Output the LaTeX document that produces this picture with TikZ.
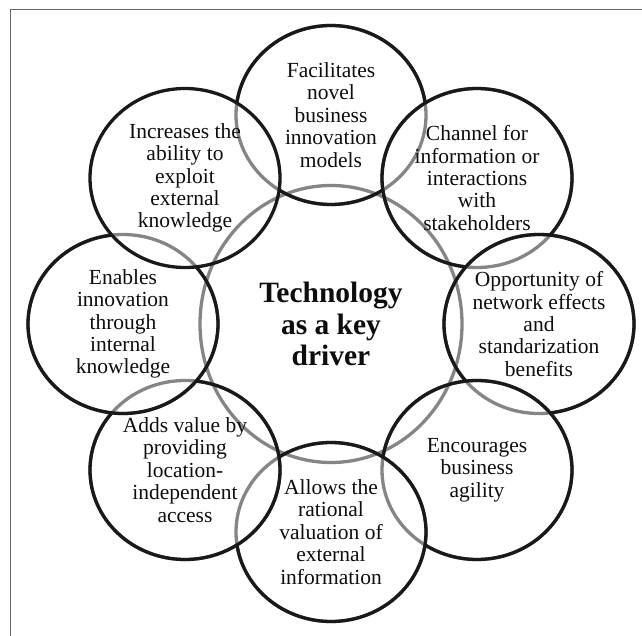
\documentclass[tikz,border=0pt]{standalone}
\usepackage{fontspec}
\setmainfont{Liberation Serif}
\begin{document}
\begin{tikzpicture}[x=1pt,y=-1pt,
  blackline/.style={draw=black!90, line width=3.3pt},
  grayline/.style={draw=black!48, line width=3.3pt},
  ovalsize/.style={x radius=95, y radius=89.5},
  lbl/.style={align=center, inner sep=0pt, font=\fontsize{21.5}{22.4}\selectfont, text=black!95},
  hub/.style={align=center, inner sep=0pt, font=\fontsize{29.5}{31.5}\selectfont\bfseries, text=black!95},
]
\useasboundingbox (0,0) rectangle (642,636);
\draw[black!60, line width=1.2pt] (10.5,660) -- (10.5,9.5) -- (660,9.5);
% centres
\coordinate (pC) at (331,324);
\coordinate (pT) at (331,115);
\coordinate (pTR) at (477,178);
\coordinate (pR) at (539,324);
\coordinate (pBR) at (477,470);
\coordinate (pB) at (331,532);
\coordinate (pBL) at (185,470);
\coordinate (pL) at (123,324);
\coordinate (pTL) at (185,178);
% central ring
\draw[grayline] (pC) ellipse [x radius=131, y radius=138.5];
% outer rings, grey first
\foreach \p in {pT,pTR,pR,pBR,pB,pBL,pL}
  \draw[grayline] (\p) ellipse [ovalsize];
% black parts: each ring outside the rings that lie above it
\draw[blackline] (pTL) ellipse [ovalsize];
\begin{scope}[even odd rule]
  \clip (-100,-100) -- (-100,800) -- (800,800) -- (800,-100) -- cycle
    (pTL) ellipse [ovalsize] (pTR) ellipse [ovalsize];
  \draw[blackline] (pT) ellipse [ovalsize];
\end{scope}
\begin{scope}[even odd rule]
  \clip (-100,-100) -- (-100,800) -- (800,800) -- (800,-100) -- cycle
    (pR) ellipse [ovalsize];
  \draw[blackline] (pTR) ellipse [ovalsize];
\end{scope}
\begin{scope}[even odd rule]
  \clip (-100,-100) -- (-100,800) -- (800,800) -- (800,-100) -- cycle
    (pBR) ellipse [ovalsize];
  \draw[blackline] (pR) ellipse [ovalsize];
\end{scope}
\begin{scope}[even odd rule]
  \clip (-100,-100) -- (-100,800) -- (800,800) -- (800,-100) -- cycle
    (pB) ellipse [ovalsize];
  \draw[blackline] (pBR) ellipse [ovalsize];
\end{scope}
\begin{scope}[even odd rule]
  \clip (-100,-100) -- (-100,800) -- (800,800) -- (800,-100) -- cycle
    (pBL) ellipse [ovalsize];
  \draw[blackline] (pB) ellipse [ovalsize];
\end{scope}
\begin{scope}[even odd rule]
  \clip (-100,-100) -- (-100,800) -- (800,800) -- (800,-100) -- cycle
    (pL) ellipse [ovalsize];
  \draw[blackline] (pBL) ellipse [ovalsize];
\end{scope}
\begin{scope}[even odd rule]
  \clip (-100,-100) -- (-100,800) -- (800,800) -- (800,-100) -- cycle
    (pTL) ellipse [ovalsize];
  \draw[blackline] (pL) ellipse [ovalsize];
\end{scope}
% texts
\node[hub] (hub) at (pC) {Technology\\as a key\\driver};
\node[lbl] (t) at (pT) {Facilitates\\novel\\business\\innovation\\models};
\node[lbl] (tr) at (pTR) {Channel for\\information or\\interactions\\with\\stakeholders};
\node[lbl] (r) at (pR) {Opportunity of\\network effects\\and\\standarization\\benefits};
\node[lbl] (br) at (pBR) {Encourages\\business\\agility};
\node[lbl] (b) at (pB) {Allows the\\rational\\valuation of\\external\\information};
\node[lbl] (bl) at (pBL) {Adds value by\\providing\\location-\\independent\\access};
\node[lbl] (l) at (pL) {Enables\\innovation\\through\\internal\\knowledge};
\node[lbl] (tl) at (pTL) {Increases the\\ability to\\exploit\\external\\knowledge};
\end{tikzpicture}
\end{document}
